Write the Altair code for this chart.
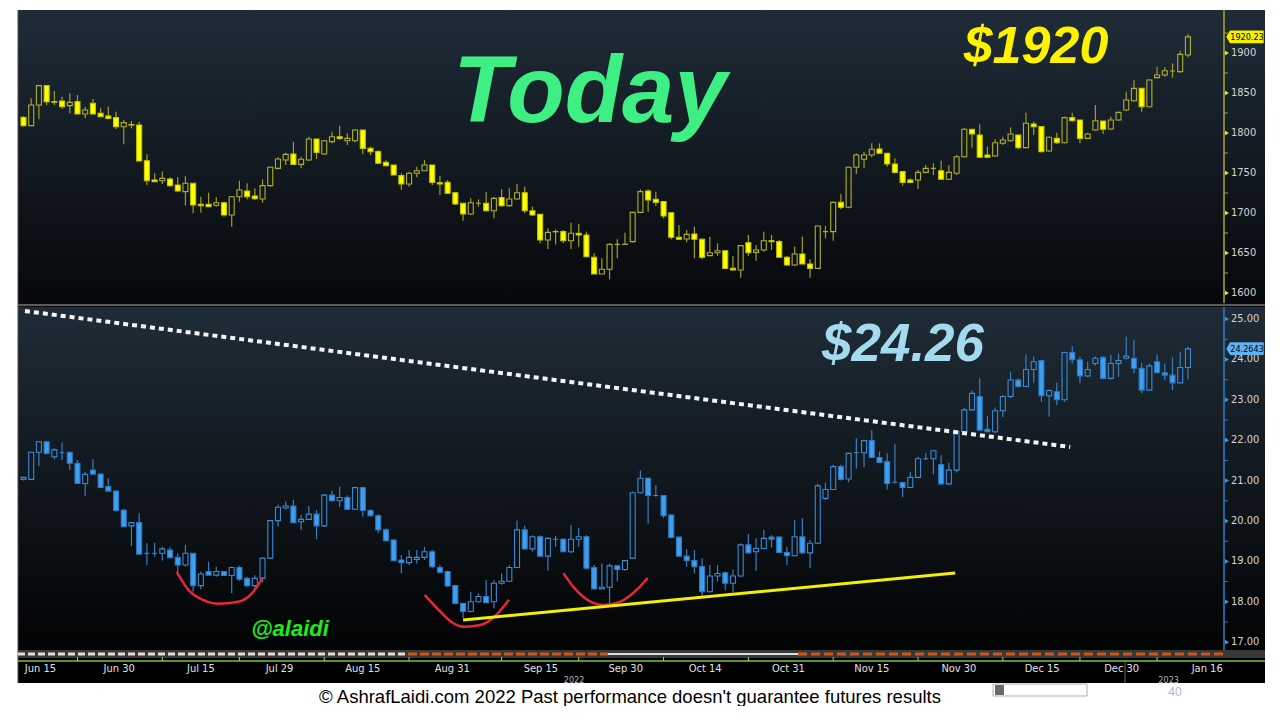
import altair as alt
import pandas as pd

# ---------------- data ----------------
# Gold spot daily candles (index 0 = first visible session, mid-June 2022)
gold_open = [1819.6,1809.2,1835,1859.2,1839.2,1840,1834.2,1839.2,1823.8,1837.1,
 1824.6,1821.3,1819.2,1807.9,1810.5,1810,1765.4,1741.3,1740.4,1742.5,
 1735,1726.7,1737.1,1710.8,1710.8,1709.6,1712.9,1697.5,1720.4,1727.5,
 1721.3,1717.5,1734.2,1755.8,1766.3,1773.8,1760.8,1766.3,1792.5,1773.8,
 1789.2,1795.4,1790.4,1790.4,1803.8,1780.8,1776.7,1763.3,1760,1746.7,
 1736.3,1749.6,1752.9,1760,1737.9,1738.3,1725.4,1712.1,1698.8,1712.1,
 1712.1,1702.9,1719.2,1709.2,1717.5,1725.4,1702.9,1698.3,1666.3,1676.7,
 1676.7,1665.4,1674.6,1672.5,1644.6,1623.8,1629.6,1660.8,1660.8,1664.2,
 1700.8,1727.5,1717.1,1714.2,1700.4,1669.6,1667.5,1673.8,1667.1,1646.7,
 1650.4,1652.9,1630.8,1628.8,1662.9,1650.8,1653.8,1665.4,1664.2,1644.6,
 1635,1648.8,1636.3,1630.8,1676.7,1676.7,1713.3,1707.1,1757.1,1767.1,
 1772.5,1780,1774.6,1761.3,1751.7,1741.3,1741.3,1750.8,1755.8,1752.9,
 1742.1,1749.6,1770.4,1804.6,1797.5,1772.5,1771.3,1787.1,1790.4,1797.5,
 1781.7,1811.3,1808,1777.5,1793.3,1787.9,1819.2,1816.3,1793.3,1803.8,
 1815,1805,1816.3,1828.8,1840.4,1855.8,1832.9,1869.2,1872.5,1877.5,
 1876.7,1897.5]
gold_high = [1821,1843.3,1859.2,1859.2,1852.5,1845.4,1849.6,1847.5,1832.9,1842.5,
 1830.8,1832.9,1826.7,1816.3,1815,1814.2,1773.3,1749.6,1752,1744.6,
 1744.6,1746,1737.1,1720.4,1725.4,1719.6,1714.2,1721.3,1740.4,1737.1,
 1730.8,1742,1757.9,1769.6,1775.4,1789.2,1770.4,1795.4,1792.5,1791.3,
 1801.7,1809.2,1799.6,1804.6,1803.8,1782.9,1778.8,1766,1760,1749.6,
 1751.7,1757.9,1766.3,1760,1746.3,1741.3,1726.7,1712.1,1718.3,1717.1,
 1726.7,1720.4,1729.6,1730.8,1736.3,1732.9,1707.9,1698.3,1680.8,1679.6,
 1678.8,1687.9,1686.3,1676.7,1649.6,1643.3,1662.1,1667.1,1675.4,1701.7,
 1729.6,1729.6,1726.7,1714.2,1700.4,1685,1678.8,1682.9,1668.3,1670.4,
 1662.1,1652.9,1646.3,1659.2,1672.5,1660,1676.7,1672.5,1666.3,1646.3,
 1657.9,1670.4,1642.1,1683.8,1683.8,1714.2,1723.8,1757.9,1774.6,1776.7,
 1787.1,1787.1,1775.4,1768.3,1751.7,1743.3,1753.8,1760,1762.1,1765.4,
 1760,1772.5,1805.8,1804.6,1810.8,1782.9,1792.1,1795.4,1807.1,1797.5,
 1825.4,1814.2,1808,1795.4,1800.4,1820.4,1825.4,1816.3,1800.4,1835,
 1815,1820.4,1826.7,1851.7,1866.3,1855.8,1867.1,1882.9,1882.1,1887.1,
 1902.9,1923.3]
gold_low = [1808,1809.2,1817.1,1835,1835,1830,1824.6,1823.8,1818.3,1823.8,
 1820.4,1817.1,1805,1785.8,1805.8,1765,1735,1739.2,1736.3,1732.9,
 1726.7,1709.2,1699.6,1700.4,1707.9,1707.9,1695.4,1682.9,1714.2,1717.1,
 1716.3,1713,1732.9,1754.6,1760,1760.8,1756,1765.4,1767.5,1772.5,
 1787.1,1791.3,1785,1788.3,1773.8,1772.5,1761.3,1758,1747.5,1728.8,
 1732.9,1744.6,1752.9,1735,1722.5,1724.6,1710,1690.4,1697.5,1707.9,
 1701.7,1693.3,1707.9,1707.9,1716.3,1699.6,1696.3,1662.1,1655,1660.8,
 1662.1,1655,1657.9,1644.6,1623.8,1623.8,1617.1,1643.3,1660.8,1663.3,
 1700.4,1701.7,1708.8,1693.3,1667.1,1666.3,1663.3,1643.3,1642.1,1646.3,
 1646.3,1629.6,1628.8,1619.2,1646.3,1640.4,1651.7,1653.8,1644.6,1633.8,
 1633.8,1636.3,1619.2,1630,1668.3,1665.4,1704.6,1706,1748.8,1755.8,
 1769.6,1774.6,1757.9,1749.6,1734.2,1738.3,1730,1749.6,1747.5,1742.1,
 1741.3,1747.5,1769.6,1781.7,1769.6,1769.6,1770.4,1785,1789.2,1779.6,
 1780.8,1797.5,1775.8,1776.7,1786.3,1787.1,1814.2,1787.1,1792.1,1802.9,
 1798.8,1803.8,1815.4,1827.9,1839.2,1826.7,1832.1,1868.3,1870.4,1869.2,
 1875.4,1894.6]
gold_close = [1809.2,1835,1859.2,1839.2,1838.5,1832.9,1838.3,1823.8,1828.8,1823.8,
 1820.4,1818.3,1807.9,1813,1810,1765,1740.4,1739.2,1743.3,1734.2,
 1727.5,1737.1,1710,1709.2,1707.9,1712.9,1697.5,1720.4,1728.8,1720.4,
 1717.9,1734.2,1757.1,1767.5,1773.3,1760.8,1767.1,1792.5,1775.8,1790.4,
 1795.4,1793.3,1793.3,1803.8,1780.8,1776.7,1762.1,1759.2,1747.5,1736.3,
 1749.6,1752.9,1760,1738.3,1736.3,1724.6,1711.3,1698.8,1712.9,1712.1,
 1702.9,1718.3,1709.2,1717.5,1725.4,1702.9,1697.5,1666.3,1675.8,1676.5,
 1665.4,1674.6,1672.5,1645.4,1623.8,1629.6,1660.8,1660.8,1661,1700.8,
 1726.7,1716.3,1713.3,1696.3,1669.6,1667.1,1673.3,1667.1,1644.6,1650.4,
 1652.9,1630.8,1628.8,1659.2,1650.4,1653.8,1665.4,1664.2,1644.6,1635,
 1648.8,1636.3,1630.8,1683.8,1676.7,1713.3,1707.1,1757.1,1772.5,1772.5,
 1779.6,1774.6,1761.3,1750.8,1738.3,1738.3,1750.8,1755.8,1755.8,1742.1,
 1750.8,1770.4,1804.6,1798.8,1769.6,1769.6,1787.9,1791.3,1798.8,1781.7,
 1812.1,1807.9,1776.7,1794.6,1787.9,1819.2,1815.4,1793.3,1798.8,1815.4,
 1804.6,1816.3,1825.8,1841.3,1855.8,1832.9,1866.3,1872.5,1877.9,1877.5,
 1898.3,1920.2]

# Silver spot daily candles (same sessions)
silver_open = [21.03,21.03,21.70,21.96,21.59,21.69,21.70,21.43,20.93,21.26,
 21.16,20.85,20.74,20.27,19.88,19.96,19.20,19.20,19.20,19.28,
 19.10,18.91,19.20,18.40,18.75,18.66,18.75,18.65,18.85,18.58,
 18.40,18.58,19.08,20.01,20.32,20.37,19.98,20.04,20.17,19.88,
 20.64,20.50,20.58,20.29,20.825,20.26,20.13,19.78,19.53,19.035,
 18.97,19.05,19.10,19.24,18.85,18.75,18.40,17.96,17.76,18.00,
 18.13,18.00,18.46,18.51,18.85,19.78,19.31,19.61,19.13,19.55,
 19.55,19.24,19.55,19.61,18.85,18.32,18.36,18.89,18.80,19.08,
 20.70,21.06,20.63,20.63,20.15,19.60,19.13,19.02,18.87,18.25,
 18.64,18.72,18.46,18.64,19.41,19.24,19.32,19.60,19.60,19.22,
 19.14,19.61,19.21,19.45,20.56,20.78,21.345,21.04,21.69,21.69,
 21.99,21.57,21.47,20.96,20.95,20.83,21.08,21.54,21.54,21.40,
 20.92,21.26,22.21,22.75,23.08,22.27,22.21,22.73,23.08,23.49,
 23.33,23.75,23.97,23.10,23.20,23.00,24.17,23.99,23.59,23.90,
 24.05,23.53,23.90,24.03,24.03,23.78,23.24,23.94,23.67,23.61,
 23.42,23.80]
silver_high = [21.10,21.70,21.96,21.96,21.80,21.94,21.70,21.51,21.22,21.53,
 21.18,21.06,20.77,20.29,19.98,20.19,19.45,19.46,19.365,19.35,
 19.20,19.41,19.20,18.75,18.99,18.87,18.75,18.87,18.89,18.62,
 18.66,19.09,20.025,20.40,20.48,20.52,20.15,20.37,20.27,20.67,
 20.75,20.85,20.64,20.85,20.85,20.29,20.17,19.82,19.55,19.16,
 19.28,19.28,19.36,19.28,18.91,18.77,18.42,17.96,18.25,18.21,
 18.54,18.54,18.70,18.91,20.01,19.88,19.65,19.65,19.60,19.63,
 19.57,19.90,19.82,19.65,18.91,18.95,18.95,18.91,19.035,20.73,
 21.25,21.08,20.89,20.64,20.16,19.61,19.30,19.28,19.08,18.91,
 18.91,18.75,18.80,19.45,19.68,19.57,19.78,19.65,19.63,19.36,
 20.03,20.07,19.53,20.93,20.95,21.39,21.39,21.69,22.05,22.01,
 22.25,21.72,21.675,21.91,20.97,21.22,21.59,21.675,21.76,21.63,
 21.44,22.24,22.79,23.23,23.53,22.60,22.81,23.12,23.70,23.53,
 24.13,24.07,23.97,23.26,23.42,24.19,24.33,24.07,23.94,24.07,
 24.08,24.11,24.15,24.56,24.48,23.92,23.90,24.13,23.90,24.05,
 24.19,24.315]
silver_low = [21.00,21.03,21.36,21.65,21.53,21.51,21.26,20.93,20.62,21.14,
 20.81,20.73,20.23,19.86,19.38,19.18,18.91,19.12,19.02,19.08,
 18.705,18.87,18.25,18.31,18.66,18.62,18.65,18.21,18.52,18.375,
 18.33,18.48,19.06,19.86,20.29,19.96,19.78,20.025,19.55,19.86,
 20.48,20.355,20.27,20.27,20.11,20.11,19.70,19.49,19.02,18.705,
 18.91,18.95,19.035,18.83,18.70,18.37,17.95,17.59,17.74,17.98,
 17.96,17.84,18.42,18.50,18.83,19.28,19.24,19.12,18.77,19.36,
 19.24,19.21,19.36,18.80,18.32,18.32,17.95,18.50,18.77,19.06,
 20.685,19.94,20.60,20.07,19.57,19.12,18.87,18.70,18.15,18.23,
 18.50,18.29,18.25,18.62,19.20,18.77,19.30,19.35,19.21,18.91,
 19.12,19.20,18.83,19.43,20.52,20.77,21.00,20.96,21.30,21.33,
 21.57,21.43,20.78,20.93,20.59,20.81,21.06,21.51,21.16,20.89,
 20.89,21.20,22.17,22.73,22.24,22.20,22.17,22.57,23.04,23.30,
 23.31,23.42,22.95,22.58,22.87,22.95,23.90,23.41,23.56,23.84,
 23.51,23.51,23.57,24.00,23.655,23.16,23.23,23.655,23.49,23.24,
 23.41,23.51]
silver_close = [21.08,21.70,21.96,21.675,21.76,21.69,21.43,20.93,21.155,21.16,
 20.83,20.74,20.26,19.86,19.96,19.18,19.20,19.20,19.31,19.09,
 18.91,19.20,18.40,18.69,18.66,18.75,18.65,18.85,18.56,18.40,
 18.58,19.08,20.01,20.34,20.37,19.96,20.04,20.17,19.88,20.64,
 20.50,20.58,20.29,20.825,20.26,20.13,19.78,19.51,19.02,18.97,
 19.10,19.10,19.24,18.87,18.73,18.39,17.96,17.76,18.00,18.13,
 17.98,18.46,18.51,18.85,19.78,19.31,19.61,19.13,19.57,19.55,
 19.24,19.55,19.61,18.83,18.32,18.36,18.89,18.80,19.02,20.70,
 21.06,20.63,20.63,20.13,19.59,19.13,19.02,18.87,18.25,18.64,
 18.70,18.46,18.64,19.41,19.21,19.32,19.57,19.55,19.22,19.14,
 19.61,19.21,19.45,20.87,20.78,21.345,21.03,21.675,21.69,21.99,
 21.57,21.45,20.93,20.96,20.83,21.08,21.54,21.54,21.74,20.92,
 21.26,22.21,22.75,23.16,22.25,22.21,22.73,23.08,23.49,23.33,
 23.75,23.94,23.10,23.23,23.00,24.17,23.99,23.59,23.75,24.03,
 23.53,23.90,23.97,24.08,23.78,23.24,23.84,23.67,23.61,23.42,
 23.80,24.26]

# x axis (session index positions of the date labels)
x_tick_pos = [2.2, 12.4, 23.0, 33.2, 44.0, 55.6, 67.1, 78.1, 88.4, 99.2, 110.0, 121.3, 132.1, 142.4, 153.5]
x_tick_lab = ["Jun 15", "Jun 30", "Jul 15", "Jul 29", "Aug 15", "Aug 31", "Sep 15", "Sep 30",
              "Oct 14", "Oct 31", "Nov 15", "Nov 30", "Dec 15", "Dec 30", "Jan 16"]
x_minor = [7, 18, 28, 39, 50, 62, 72, 83, 94, 105, 116, 127, 137, 147]
year_pos = [71.4, 148.5]
year_lab = ["2022", "2023"]

# right axes
gold_major = [1600, 1650, 1700, 1750, 1800, 1850, 1900]
gold_major_lab = ["1600", "1650", "1700", "1750", "1800", "1850", "1900"]
gold_minor = [1625, 1675, 1725, 1775, 1825, 1875, 1925]
silver_major = [17, 18, 19, 20, 21, 22, 23, 24, 25]
silver_major_lab = ["17.00", "18.00", "19.00", "20.00", "21.00", "22.00", "23.00", "24.00", "25.00"]
silver_minor = [17.5, 18.5, 19.5, 20.5, 21.5, 22.5, 23.5, 24.5]
gold_last = [1920.23]
gold_last_lab = ["1920.23"]
silver_last = [24.2643]
silver_last_lab = ["24.2643"]

# hand-drawn annotations on the silver panel (session index, price)
down_trend_i = [0.19, 135.74]
down_trend_p = [25.198, 21.832]
up_trend_i = [57.0, 120.82]
up_trend_p = [17.55, 18.713]
arc_id = [1] * 7 + [2] * 7 + [3] * 7
arc_i = [19.87, 21.41, 23.34, 25.27, 27.84, 29.77, 31.06,
         52.02, 53.82, 55.49, 57.16, 59.35, 61.54, 62.95,
         70.02, 71.31, 73.11, 75.17, 77.35, 79.54, 80.95]
arc_p = [18.74, 18.29, 18.04, 17.95, 18.00, 18.24, 18.61,
         18.17, 17.80, 17.50, 17.38, 17.43, 17.72, 18.05,
         18.71, 18.37, 18.05, 17.92, 18.00, 18.30, 18.59]

# ---------------- frames ----------------
def ohlc(o, h, l, c):
    df = pd.DataFrame({"i": list(range(len(o))), "o": o, "h": h, "l": l, "c": c})
    df["top"] = df[["o", "c"]].max(axis=1)
    df["bot"] = df[["o", "c"]].min(axis=1)
    return df

gold = ohlc(gold_open, gold_high, gold_low, gold_close)
silver = ohlc(silver_open, silver_high, silver_low, silver_close)
one = pd.DataFrame({"k": [0]})

W, H = 1206, 673
XS = alt.Scale(domain=[-0.0643, 155.03], nice=False, zero=False)
GS = alt.Scale(domain=[1587.5, 1953.75], range=[293, 0], nice=False, zero=False)
SS = alt.Scale(domain=[16.807, 25.297], range=[640, 297], nice=False, zero=False)
NARROW = "'Liberation Sans Narrow', 'Arial Narrow', 'DejaVu Sans Condensed', 'Liberation Sans', sans-serif"
BOX = "M -1 0 L -0.8 -0.34 L 1 -0.34 L 1 0.34 L -0.8 0.34 Z"


def X(f):
    return alt.X(f, type="quantitative", scale=XS, axis=None)


def GY(f):
    return alt.Y(f, type="quantitative", scale=GS, axis=None)


def SY(f):
    return alt.Y(f, type="quantitative", scale=SS, axis=None)


def grad(c0, c1):
    return alt.LinearGradient(gradient="linear",
                              stops=[alt.GradientStop(color=c0, offset=0),
                                     alt.GradientStop(color=c1, offset=1)],
                              x1=0, x2=0, y1=0, y2=1)


def rect(x0, x1, y0, y1, fill, stroke=None):
    kw = {"fill": fill}
    if stroke:
        kw["stroke"] = stroke
        kw["strokeWidth"] = 1
    return alt.Chart(one).mark_rect(**kw).encode(
        x=alt.value(x0), x2=alt.value(x1), y=alt.value(y0), y2=alt.value(y1))


def hrule(x0, x1, y, color, width=1.0, dash=None):
    kw = {"color": color, "strokeWidth": width}
    if dash:
        kw["strokeDash"] = dash
    return alt.Chart(one).mark_rule(**kw).encode(
        x=alt.value(x0), x2=alt.value(x1), y=alt.value(y))


def vrule(x, y0, y1, color, width=1.0):
    return alt.Chart(one).mark_rule(color=color, strokeWidth=width).encode(
        x=alt.value(x), y=alt.value(y0), y2=alt.value(y1))


def label(text, x, y, size, color, weight="normal", style="normal", font="Liberation Sans",
          align="center", baseline="alphabetic"):
    return alt.Chart(one).mark_text(text=text, font=font, fontSize=size, fontWeight=weight,
                                    fontStyle=style, color=color, align=align,
                                    baseline=baseline).encode(x=alt.value(x), y=alt.value(y))


def candles(df, yf, wick, fill_dn, stroke_dn, stroke_up):
    base = alt.Chart(df)
    w1 = base.mark_rule(color=wick, strokeWidth=1.2).encode(x=X("i"), y=yf("h"), y2="top")
    w2 = base.mark_rule(color=wick, strokeWidth=1.2).encode(x=X("i"), y=yf("bot"), y2="l")
    body = base.mark_bar(size=5, strokeWidth=1.1).encode(
        x=X("i"), y=yf("o"), y2="c",
        fill=alt.condition("datum.c < datum.o", alt.value(fill_dn), alt.value("transparent")),
        stroke=alt.condition("datum.c < datum.o", alt.value(stroke_dn), alt.value(stroke_up)))
    return [w1, w2, body]


def right_axis(vals, labs, minor, yf, y0, y1, line_col, tri_col):
    major_df = pd.DataFrame({"v": vals, "lab": labs})
    minor_df = pd.DataFrame({"v": minor})
    return [
        vrule(1206, y0, y1, line_col, 1.5),
        alt.Chart(minor_df).mark_rule(color=line_col, strokeWidth=1).encode(
            x=alt.value(1206), x2=alt.value(1210), y=yf("v")),
        alt.Chart(major_df).mark_point(shape="triangle-right", filled=True, size=22,
                                       color=tri_col, opacity=1).encode(
            x=alt.value(1209), y=yf("v")),
        alt.Chart(major_df).mark_text(align="left", baseline="middle", font=NARROW,
                                      fontSize=11, color="#d4d4d4").encode(
            x=alt.value(1213), y=yf("v"), text="lab:N"),
    ]


def price_box(val, lab, yf, fill):
    df = pd.DataFrame({"v": val, "lab": lab})
    return [
        alt.Chart(df).mark_point(shape=BOX, size=1400, filled=True, color=fill, opacity=1).encode(
            x=alt.value(1227), y=yf("v")),
        alt.Chart(df).mark_text(font=NARROW, fontSize=9, color="#000000",
                                align="center", baseline="middle").encode(
            x=alt.value(1229), y=yf("v"), text="lab:N"),
    ]


layers = []
# backgrounds
layers.append(rect(0, 1247, 0, 293, grad("#1f2c38", "#06080b")))
layers.append(rect(0, 1247, 293, 297, "#0a0c0f"))
layers.append(hrule(0, 1247, 295, "#5a5a5a", 2.2))
layers.append(rect(0, 1247, 297, 640, grad("#1f2c37", "#020304")))
layers.append(rect(0, 1247, 640, 673, "#000000"))
layers.append(rect(0, 1247, 640, 648, "#383838"))
layers.append(vrule(0, 0, 673, "#4a4a4a", 1))

# candles
layers += candles(gold, GY, "#9e9e22", "#ffff00", "#c6c600", "#b0b028")
layers += candles(silver, SY, "#3a7fc0", "#3e9ef0", "#2f78c0", "#3a8ad4")

# annotations
down_df = pd.DataFrame({"i": down_trend_i, "p": down_trend_p})
up_df = pd.DataFrame({"i": up_trend_i, "p": up_trend_p})
arc_df = pd.DataFrame({"arc": arc_id, "i": arc_i, "p": arc_p})
layers.append(alt.Chart(arc_df).mark_line(color="#e8263a", strokeWidth=2.5, interpolate="monotone").encode(
    x=X("i"), y=SY("p"), detail="arc:N"))
layers.append(alt.Chart(up_df).mark_line(color="#f4ee00", strokeWidth=3).encode(x=X("i"), y=SY("p")))
layers.append(alt.Chart(down_df).mark_line(color="#f4f4f4", strokeWidth=4, strokeDash=[5, 4],
                                           strokeCap="butt").encode(x=X("i"), y=SY("p")))

# big texts
layers.append(label("Today", 572, 112, 94, "#3ef084", "bold", "italic"))
layers.append(label("$1920", 1018, 53, 52, "#fff200", "bold", "italic"))
layers.append(label("$24.26", 885, 351, 53, "#a3daee", "bold", "italic"))
layers.append(label("@alaidi", 272, 626, 22, "#1aee1a", "bold", "italic"))

# right axes
layers += right_axis(gold_major, gold_major_lab, gold_minor, GY, 0, 293, "#a8a82a", "#e6e62a")
layers += right_axis(silver_major, silver_major_lab, silver_minor, SY, 297, 640, "#2f7fc4", "#3f96e0")
layers += price_box(gold_last, gold_last_lab, GY, "#f2f200")
layers += price_box(silver_last, silver_last_lab, SY, "#5fb2f2")

# bottom strip (event band + date axis)
layers.append(hrule(0, 390, 644, "#e6dccf", 3, [7, 3]))
layers.append(hrule(390, 590, 644, "#c9581c", 3, [9, 3]))
layers.append(hrule(590, 780, 644, "#dcdcdc", 2))
layers.append(hrule(780, 1206, 644, "#c9581c", 3, [9, 4]))
layers.append(hrule(0, 1247, 651, "#79c23a", 1.5))
xt_df = pd.DataFrame({"pos": x_tick_pos, "lab": x_tick_lab})
xm_df = pd.DataFrame({"v": x_minor})
yr_df = pd.DataFrame({"pos": year_pos, "lab": year_lab})
layers.append(alt.Chart(xm_df).mark_rule(color="#c8c832", strokeWidth=1).encode(
    x=X("v"), y=alt.value(647), y2=alt.value(651)))
layers.append(alt.Chart(xt_df).mark_text(font=NARROW, fontSize=11, color="#e0e0e0",
                                         baseline="middle").encode(
    x=X("pos"), y=alt.value(659), text="lab:N"))
layers.append(alt.Chart(yr_df).mark_text(font=NARROW, fontSize=9, color="#b8b8b8",
                                         baseline="middle").encode(
    x=X("pos"), y=alt.value(670), text="lab:N"))
layers.append(vrule(1107, 652, 673, "#6b6b3a", 1))

# footer
layers.append(label("© AshrafLaidi.com 2022 Past performance doesn't guarantee futures results",
                    612, 687, 18.5, "#000000", baseline="middle"))
layers.append(rect(975, 1069, 674, 686, "#ffffff", "#b0b0b0"))
layers.append(rect(977, 986, 675, 685, "#6a6a6a"))
layers.append(label("40", 1157, 682, 12, "#a8b6c8", baseline="middle"))

chart = alt.layer(*layers).resolve_scale(y="independent").properties(
    width=W, height=H,
    padding={"left": 10, "top": 2, "right": 48, "bottom": 23},
    autosize=alt.AutoSizeParams(type="none"),
    background="white",
).configure_view(stroke=None)

chart.save("out.html", embed_options={"renderer": "svg", "actions": False})
